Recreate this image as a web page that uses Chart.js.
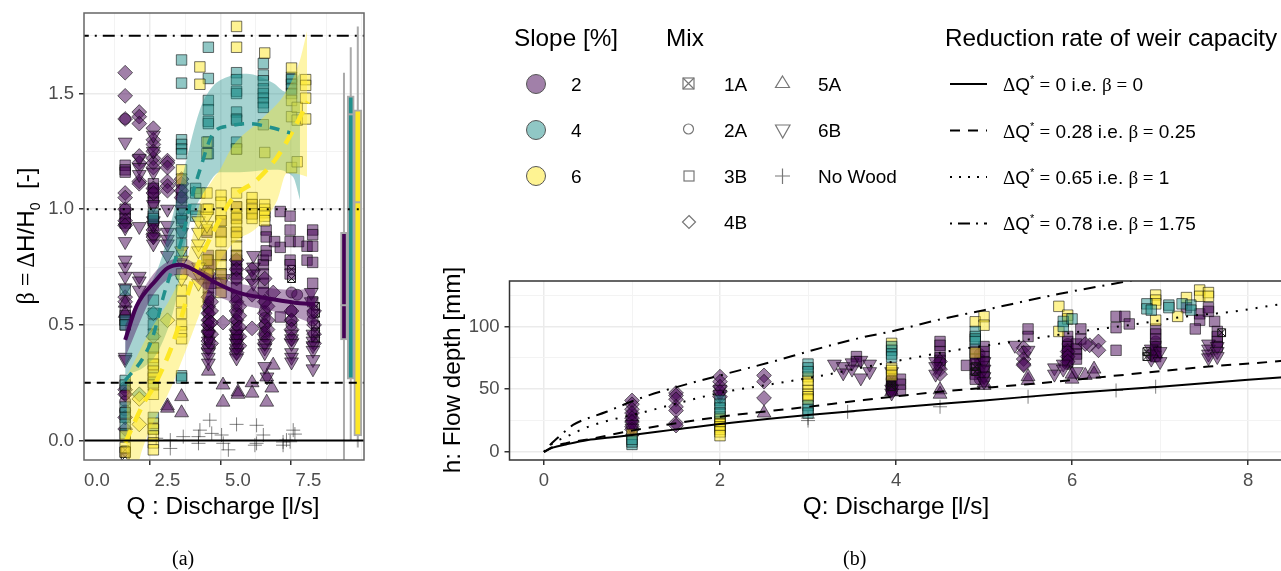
<!DOCTYPE html>
<html>
<head>
<meta charset="utf-8">
<script src="https://cdn.jsdelivr.net/npm/chart.js@4/dist/chart.umd.min.js"></script>
<style>
  html, body { margin: 0; padding: 0; background: #fff; }
  body { width: 1281px; height: 571px; overflow: hidden; position: relative; font-family: "Liberation Sans", sans-serif; color: #000; }
  canvas { position: absolute; }
  .t { position: absolute; white-space: nowrap; line-height: 1; }
  .ttl { font-size: 24.3px; }
  .lab { font-size: 19px; }
  .ser { font-family: "Liberation Serif", serif; }
  .rot { transform: translate(-50%, -50%) rotate(-90deg); }
  .cap { font-family: "Liberation Serif", serif; font-size: 20px; }
  sup { font-size: 11px; line-height: 0; position: relative; top: -1px; vertical-align: super; }
  sub { font-size: 14px; line-height: 0; }
  svg { position: absolute; left: 0; top: 0; }
</style>
</head>
<body>
<canvas id="chartA" width="420" height="520" style="left:0;top:0"></canvas>
<canvas id="chartB" width="860" height="250" style="left:440px;top:270px"></canvas>

<svg width="1281" height="571">
  <g stroke="#555" fill-opacity="1">
    <circle cx="536" cy="84" r="9.5" fill="#a180a9"/>
    <circle cx="536" cy="130" r="9.5" fill="#90c7c5"/>
    <circle cx="536" cy="176" r="9.5" fill="#fef392"/>
  </g>
  <g stroke="#777" fill="none" stroke-width="1.2">
    <rect x="683" y="78" width="11" height="11"/><path d="M683 78L694 89M694 78L683 89"/>
    <circle cx="688.5" cy="129" r="5"/>
    <rect x="684" y="171" width="10" height="10"/>
    <path d="M689 215.5L695.5 222L689 228.5L682.500 222Z"/>
    <path d="M782.500 76L789.500 87.500H775.500Z"/>
    <path d="M775.500 125L790 125L782.700 138Z"/>
    <path d="M775 176H790M782.500 168.500V184"/>
  </g>
  <g stroke="#000" stroke-width="2" fill="none">
    <path d="M950 84H987"/>
    <path d="M950 130.500H987" stroke-dasharray="10 8"/>
    <path d="M950 177H987" stroke-dasharray="2 7"/>
    <path d="M950 223.500H987" stroke-dasharray="2 6 12 6"/>
  </g>
</svg>

<div class="t ttl" style="left:514px;top:26px">Slope [%]</div>
<div class="t ttl" style="left:666px;top:26px">Mix</div>
<div class="t ttl" style="left:945px;top:26px">Reduction rate of weir capacity</div>
<div class="t lab" style="left:571px;top:75px">2</div>
<div class="t lab" style="left:571px;top:121px">4</div>
<div class="t lab" style="left:571px;top:167px">6</div>
<div class="t lab" style="left:724px;top:75px">1A</div>
<div class="t lab" style="left:724px;top:121px">2A</div>
<div class="t lab" style="left:724px;top:167px">3B</div>
<div class="t lab" style="left:724px;top:213px">4B</div>
<div class="t lab" style="left:818px;top:75px">5A</div>
<div class="t lab" style="left:818px;top:121px">6B</div>
<div class="t lab" style="left:818px;top:167px">No Wood</div>
<div class="t lab" style="left:1003px;top:75px"><span class="ser">Δ</span>Q<sup>*</sup> <span class="ser">=</span> 0 i.e. <span class="ser">β =</span> 0</div>
<div class="t lab" style="left:1003px;top:122px"><span class="ser">Δ</span>Q<sup>*</sup> <span class="ser">=</span> 0.28 i.e. <span class="ser">β =</span> 0.25</div>
<div class="t lab" style="left:1003px;top:168px"><span class="ser">Δ</span>Q<sup>*</sup> <span class="ser">=</span> 0.65 i.e. <span class="ser">β =</span> 1</div>
<div class="t lab" style="left:1003px;top:214px"><span class="ser">Δ</span>Q<sup>*</sup> <span class="ser">=</span> 0.78 i.e. <span class="ser">β =</span> 1.75</div>

<div class="t ttl rot" style="left:26px;top:236px"><span class="ser">β = Δ</span>H/H<sub>0</sub>&nbsp; [-]</div>
<div class="t ttl" style="left:223px;top:506px;transform:translate(-50%,-50%)">Q : Discharge [l/s]</div>
<div class="t ttl rot" style="left:452px;top:370px">h: Flow depth [mm]</div>
<div class="t ttl" style="left:896px;top:506px;transform:translate(-50%,-50%)">Q: Discharge [l/s]</div>
<div class="t cap" style="left:172px;top:548px">(a)</div>
<div class="t cap" style="left:843px;top:548px">(b)</div>

<script>
// tick values
const ticksA_x = [0, 2.5, 5, 7.5];
const ticksA_y = [0, 0.5, 1, 1.5];
const ticksB_x = [0, 2, 4, 6, 8];
const ticksB_y = [0, 50, 100];

// panel (a), each row is [Q, beta, beta, ...]
const beta2_1A = [[7.75, .58, .55, .5, .47, .44], [6.9, .74, .7], [3.95, .44], [1, -.04, -.07]];
const beta2_2A = [[1, 1.39], [3.95, .6, .57, .55, .52, .5, .48, .46], [4.95, .62, .58, .55, .52, .5, .47, .45, .43],
  [5.95, .6, .56, .53, .5, .47, .45], [6.9, .64, .56, .52, .5], [7.65, .55, .52], [7.1, .63], [1, .23, .2, .17, .13]];
const beta2_3B = [[1, 1.19, 1.17, 1.16, 1, .98, .96, .94, .56, .54, .52, .5, -.05], [2, 1.11, 1.09, 1.07, 1.05, 1.03, .97, .95, .93],
  [3, 1.08, 1.05, 1.03, .96], [3.95, .8, .78, .76, .72, .7, .66, .62], [4.95, 1.01, .96, .9, .8, .78, .76, .74, .72, .7, .66, .62],
  [5.9, .78, .76, .72, .68, .64], [6, .91, .88, .82, .8], [6.5, .99, .835, .534], [6.85, .97, .91, .86, .78, .76, .72],
  [7.15, .86], [7.45, .84, .78], [7.65, .91, .89, .84, .77, .68, .6], [6.3, .86], [4.05, .76, .68], [4.4, .95, .9, .8, .72], [5.5, 1.02, .98], [3.9, .9]];
const beta2_4B = [[1, 1.59, 1.49, 1.39, 1.07, 1.05, 1, .95, .93, .62, .6, .22, .2, .1, .05], [1.5, 1.42, 1.4, 1.37, 1.23, 1.2, 1.12, 1.11],
  [2, 1.35, 1.3, 1.28, 1.25, 1.22, 1.2, 1.18, 1.09, 1.07, .91, .89, .88], [2.5, 1.21, 1.2, 1.18, 1.12, 1.1, 1.08],
  [3, 1.13, 1.11, 1.08, 1.05], [3.95, .72, .62, .58, .55, .52, .5, .47, .43, .4], [4.05, .6, .56, .51, .46, .42], [4.47, .51], [4.95, .78, .74, .7, .6, .56, .52, .48, .44, .4, .38], [5.05, .58, .54, .49, .45, .41],
  [5.5, .74, .7, .63, .485], [5.95, .7, .6, .55, .5, .46, .42], [6.05, .58, .52, .48, .44], [6.25, .64], [6.9, .56, .52, .48, .44], [7.7, .56, .5, .46, .42]];
const beta2_5A = [[1, .594, .55], [2.5, .15, .14], [3, .19, .12], [4.47, .24, .166], [5, .21, .2], [5.5, .25, .205],
  [6.02, .275, .166], [6.25, .326], [6.2, .227], [3.95, .3]];
const beta2_6B = [[1, 1.29, .92, .86, .78, .75, .71, .66, .36, .35], [1.5, 1.22, 1.18, 1.15, .925, .71, .69, .65], [2, 1.32, 1.25, 1.16, 1.02, .95, .93, .88, .85],
  [2.5, 1, .93, .9, .87, .85, .8], [3, 1, .95, .9], [3.95, .46, .43, .4, .38, .36, .335], [4.95, .46, .44, .42, .4, .38, .357],
  [5.95, .42, .4, .38, .32], [6.03, .275], [6.9, .46, .44, .42, .38, .36, .34], [7.66, .46, .43, .41, .39, .35, .31], [5.55, .8, .75, .72, .68], [4.5, .7], [7.6, .64, .6]];
const beta2_wood = [[2.1, .01], [2.6, .002, -.034], [3.06, .017], [3.6, .017, -.012], [3.65, .045], [4, .088], [4.07, .031], [4.42, .024],
  [4.48, -.012], [4.66, -.04], [4.95, .07], [5.66, .066, -.012], [5.6, -.02], [5.9, .024], [6.6, -.006, -.02], [6.72, .002], [6.96, .045], [7.02, .028], [6.85, -.005]];

const beta4_3B = [[1, .65, .52, .5, .26, .24, .145, .12, .1, .07, .03], [2, .98, .96, .607, .55, .5, .46, .4, .33, .28, .25, .1, .05],
  [3, 1.645, 1.545, 1.3, 1.28, 1.26, 1.24, .98, .95, .9, .85, .8, .28, .27], [3.5, 1.09, 1.07, 1, .97],
  [3.95, 1.7, 1.565, 1.47, 1.43, 1.38, 1.37, 1.29, 1.24], [4.95, 1.59, 1.56, 1.51, 1.5, 1.42, 1.39, 1.385, 1.29, 1.26],
  [5.9, 1.63, 1.58, 1.555, 1.52, 1.5, 1.48, 1.46, 1.44, 1.365], [6.9, 1.57, 1.56, 1.54, 1.52, 1.5]];
const beta4_4B = [[2, .55, .45], [1.5, .2]];

const beta6_3B = [[1, -.03, -.05, .02], [2, .4, .36, .33, .3, .27, .24, .2, .075, .05, .02, -.01, -.04],
  [3, 1.17, 1.13, .72, .65, .6, .55, .5, .47, .44], [3.65, 1.07, 1.54, 1.615], [3.9, 1.29, 1.24, 1.07, 1, .91, .78, .72], [4.4, 1.06, 1.03, .98, .95, .9, .86, .8, .76, .72, .68, .64],
  [4.95, 1.79, 1.7, 1.26, 1.07, 1.01, .98, .96, .93, .9, .88, .84, .8], [5.5, 1.05, 1.02, 1, .98, .96], [5.95, 1.675, 1.245, 1.02, 1, .985, .97, .95], [6.9, 1.61, 1.47, 1.4, 1.18], [7.1, 1.44, 1.385, 1.205], [7.4, 1.56, 1.535, 1.48, 1.39], [3.95, 1.0]];
const beta6_4B = [[1.5, .18, .07], [2.5, .52]];
const beta6_6B = [[3.6, .95, .9, .85, .82, .75, .72, .68], [3, .82, .78, .7], [3.9, .97, .93]];

// loess bands and means in panel (a), as [Q, beta]
const smoothPurple = [[1, .435], [1.4, .58], [2.1, .694], [2.5, .745], [2.94, .76], [3.55, .73], [4.25, .68], [5.07, .637], [6.03, .615], [7.2, .593], [7.73, .59]];
const upperPurple = [[1, .5], [2, .72], [3, .79], [4, .72], [5, .68], [6, .66], [7, .65], [7.73, .66]];
const lowerPurple = [[1, .36], [2, .63], [3, .72], [4, .64], [5, .59], [6, .565], [7, .535], [7.73, .5]];
const smoothTeal = [[1, .26], [1.65, .36], [2, .456], [2.35, .62], [2.65, .737], [3, .867], [3.36, 1.05], [3.65, 1.17], [4.13, 1.33], [4.7, 1.36], [5.4, 1.37], [6.1, 1.355], [6.85, 1.33]];
const upperTeal = [[1, .47], [1.3, .55], [2.23, .767], [2.94, 1.096], [3.65, 1.43], [4.1, 1.53], [4.7, 1.575], [5.3, 1.585], [6.25, 1.545], [6.7, 1.507], [6.9, 1.53], [7.2, 1.59]];
const lowerTeal = [[1, .283], [1.7, .32], [2.23, .4], [2.8, .607], [3.2, .897], [3.9, 1.096], [4.36, 1.16], [5.07, 1.16], [6.25, 1.17], [6.95, 1.14], [7.2, 1.04]];
const smoothYellow = [[1, -.01], [1.65, .16], [2, .23], [2.6, .39], [3, .535], [3.3, .665], [3.55, .75], [4.1, .897], [4.83, 1.05], [5.67, 1.126], [6.4, 1.227], [6.95, 1.34], [7.48, 1.465]];
const upperYellow = [[1.05, .275], [1.9, .478], [2.7, .637], [3.2, .78], [3.65, 1.025], [4.1, 1.126], [4.36, 1.17], [4.8, 1.27], [5.8, 1.386], [6.7, 1.507], [7.2, 1.645], [7.45, 1.77]];
const lowerYellow = [[1.05, -.35], [1.5, -.085], [2.7, .25], [3.65, .55], [4.25, .75], [4.83, .853], [5.67, .92], [6.4, 1.04], [6.73, 1.155], [7.2, 1.15], [7.45, 1.14]];

// boxplots at the right of panel (a): [x, whisker low, q1, median, q3, whisker high]
const boxPurple = [8.76, -.3, .435, .585, .9, 1.59];
const boxTeal = [9, .0, .265, 1.41, 1.49, 1.7];
const boxYellow = [9.25, -.03, .02, 1.03, 1.43, 1.79];

// panel (b), each row is [Q, h, h, ...]
const depth2_1A = [[7.7, 95], [3.95, 55, 52], [4.9, 68, 64], [6.85, 80, 76]];
const depth2_2A = [[1, 30, 26], [3.95, 58, 54, 51, 48], [4.95, 78, 74, 70, 66, 62, 58], [5.95, 86, 82, 78, 74, 70], [6.95, 88, 84, 80, 76]];
const depth2_3B = [[3.55, 76, 72], [3.95, 60, 56, 52, 50], [4.05, 58, 54, 49], [4.5, 88, 85, 80, 75, 73, 70], [4.8, 69],
  [5, 84, 80, 76, 72, 68, 64, 60], [4.9, 82, 78, 74, 70, 66, 62, 58], [5.5, 98, 92], [5.95, 92, 88, 84, 80, 76, 72], [6.05, 86, 82, 78, 74], [6.1, 98, 90], [6.5, 108, 99, 81], [6.6, 108], [6.65, 102],
  [6.95, 98, 94, 90, 84, 80, 76], [7.3, 115], [7.45, 110, 105], [7.55, 115, 112], [7.62, 104], [7.4, 98], [7.65, 96, 92, 88, 84]];
const depth2_4B = [[1, 41, 38, 34, 31, 27, 24, 20, 18], [1.5, 47, 45, 42, 36, 33, 23, 21], [2, 60, 56, 52, 48, 44], [2.5, 61, 56, 43],
  [4.5, 72, 66, 62], [5.45, 83, 79, 74, 70, 69], [5.95, 80, 76, 72], [6.2, 85], [6.3, 88, 81], [6.15, 86]];
const depth2_5A = [[1, 16], [2.5, 31], [3.95, 48], [4.5, 49.500, 46], [5, 53, 55], [5.5, 57, 60], [6, 58, 62], [6.15, 61], [6.25, 66, 62], [6.95, 78]];
const depth2_6B = [[1, 22, 19], [2, 50, 46], [3.3, 70], [3.4, 68, 63], [3.5, 71, 66], [3.6, 73, 59], [3.7, 70, 64], [3.95, 64, 50, 47], [4.45, 72, 68, 62],
  [5, 72, 66, 60, 56], [5.35, 85], [5.5, 81], [5.8, 67, 62], [5.9, 70, 66], [6.05, 64], [6.9, 82, 78, 74], [7, 80, 72], [7.55, 86, 82, 78, 75], [7.65, 84, 80, 76]];
const depth2_wood = [[3, 27, 25], [3.45, 32], [4.5, 36], [5.5, 44], [6.5, 49], [6.95, 52]];

const depth4_3B = [[1, 6, 8, 10], [2, 41, 38, 35, 31], [3, 70, 67, 64, 37, 34, 31], [3.95, 84, 81, 78, 75.600], [4.9, 96, 92, 90, 88],
  [5.9, 104, 100], [6, 106], [6.85, 118, 114], [6.9, 113], [7.1, 117, 115], [7.25, 118], [7.35, 117, 113]];
const depth6_3B = [[1, 14], [2, 28, 26, 24, 22, 20, 18, 16, 13], [3, 60, 57, 54, 49, 46, 44, 42], [3.95, 86.500, 66.700, 65, 61], [4.9, 103.700, 79],
  [5, 107.800, 101], [5.85, 116, 96], [5.95, 109, 106], [6.95, 125, 121, 118, 105], [7.3, 123], [7.2, 108], [7.45, 129, 124], [7.55, 127, 124]];

// weir rating curves in panel (b), as [Q, h]
const curveSolid = [[0, 0], [.1, 3.5], [.25, 6], [.5, 9.5], [.75, 11.5], [1, 13.500], [1.5, 18], [2, 22.300], [3, 29.500], [3.59, 33], [4, 35.500], [5, 41], [6, 47], [7, 52], [8, 57.500], [8.6, 60.500]];
const curveDash = [[0, 0], [.1, 4], [.25, 7], [.5, 10], [1, 17], [2, 28], [3, 36], [3.59, 41], [4.5, 48], [5.5, 54], [6.47, 60.600], [7.55, 68], [8.29, 72], [8.6, 74]];
const curveDot = [[0, 0], [.1, 7], [.25, 12], [.5, 20], [1.15, 32], [2, 47], [2.76, 56], [3.17, 61], [3.67, 68], [4.2, 75], [4.7, 81.400], [5.45, 89], [6.1, 96], [6.65, 101], [7.3, 108], [7.85, 112], [8.3, 117], [8.6, 120]];
const curveDashDot = [[0, 0], [.06, 5], [.15, 11], [.25, 17], [.33, 21.500], [.71, 32], [1.1, 43], [1.47, 51], [2, 61], [2.6, 72], [3.05, 81], [3.6, 91], [3.97, 96.400], [4.46, 105], [5, 113], [5.86, 126], [6.55, 135], [6.8, 138]];

const PURPLE = 'rgba(68,1,84,.5)';
const TEAL = 'rgba(33,144,140,.5)';
const YELLOW = 'rgba(253,231,37,.5)';
const EDGE = 'rgba(0,0,0,.55)';

function rows(cols) {
  return cols.flatMap(([q, ...vals]) => vals.map(v => ({ x: q, y: v })));
}
function xy(list) {
  return list.map(([x, y]) => ({ x, y }));
}

// one scatter layer of a mix
function marks(cols, shape, fill, order) {
  const base = { type: 'scatter', data: rows(cols), order, backgroundColor: fill, borderColor: EDGE, borderWidth: 1 };
  if (shape === 'square') return [{ ...base, pointStyle: 'rect', pointRadius: 7.4 }];
  if (shape === 'circle') return [{ ...base, pointStyle: 'circle', pointRadius: 5.5 }];
  if (shape === 'diamond') return [{ ...base, pointStyle: 'rectRot', pointRadius: 7.4 }];
  if (shape === 'up') return [{ ...base, pointStyle: 'triangle', pointRadius: 8 }];
  if (shape === 'down') return [{ ...base, pointStyle: 'triangle', pointRotation: 180, pointRadius: 8 }];
  if (shape === 'plus') return [{ ...base, pointStyle: 'cross', pointRadius: 7, borderColor: 'rgba(30,30,30,.55)' }];
  // 1A is a square with a cross through it
  return [
    { ...base, pointStyle: 'rect', pointRadius: 5.5, backgroundColor: 'transparent', borderColor: '#111' },
    { ...base, pointStyle: 'crossRot', pointRadius: 5.5, backgroundColor: 'transparent', borderColor: '#111' }
  ];
}
function curve(list, color, width, dash, order) {
  return { type: 'line', data: xy(list), borderColor: color, borderWidth: width, borderDash: dash, pointRadius: 0, cubicInterpolationMode: 'monotone', fill: false, order, borderCapStyle: 'butt' };
}
function hline(value, dash) {
  return { type: 'line', data: [{ x: -1, y: value }, { x: 11, y: value }], borderColor: '#000', borderWidth: 2, borderDash: dash, pointRadius: 0, fill: false, order: 1 };
}
function band(upper, lower, fill, order) {
  return [
    { type: 'line', data: xy(upper), borderWidth: 0, borderColor: 'transparent', pointRadius: 0, cubicInterpolationMode: 'monotone', backgroundColor: fill, fill: '+1', order },
    { type: 'line', data: xy(lower), borderWidth: 0, borderColor: 'transparent', pointRadius: 0, cubicInterpolationMode: 'monotone', fill: false, order }
  ];
}
function box(b, fill, thick) {
  const [x, lo, q1, med, q3, hi] = b;
  return [
    { type: 'line', data: [{ x, y: lo }, { x, y: hi }], borderColor: '#aaa', borderWidth: 2, pointRadius: 0, fill: false, order: 4 },
    { type: 'bar', data: [{ x, y: [q1, q3] }], backgroundColor: fill, borderColor: '#aaa', borderWidth: 2, borderSkipped: false, barThickness: thick, grouped: false, order: 3 },
    { type: 'line', data: [{ x: x - .13, y: med }, { x: x + .13, y: med }], borderColor: '#aaa', borderWidth: 2, pointRadius: 0, fill: false, order: 2 }
  ];
}

// plain frame round the plot, like theme_bw
const frame = {
  id: 'frame',
  afterDraw(chart, args, opts) {
    const { ctx, chartArea: a } = chart;
    ctx.save();
    ctx.strokeStyle = opts.color;
    ctx.lineWidth = 1.5;
    ctx.strokeRect(a.left, a.top, a.right - a.left, a.bottom - a.top);
    ctx.restore();
  }
};

// fixed box for an axis, and no room kept for its end labels
function fixed(side, px) {
  return s => {
    s[side] = px;
    s.paddingTop = s.paddingBottom = s.paddingLeft = s.paddingRight = 0;
  };
}

function axis(min, max, step, majors, fit, fmt) {
  const isMajor = c => !!c.tick && majors.includes(c.tick.value);
  return {
    type: 'linear', min, max, offset: false,
    afterFit: fit,
    border: { display: false },
    grid: {
      drawTicks: true, tickLength: 5,
      color: c => isMajor(c) ? '#ebebeb' : '#f3f3f3',
      lineWidth: c => isMajor(c) ? 1.5 : 1,
      tickColor: c => isMajor(c) ? '#333' : 'transparent'
    },
    ticks: {
      stepSize: step, autoSkip: false, includeBounds: false, maxRotation: 0, padding: 5,
      color: '#4d4d4d', font: { family: 'Liberation Sans', size: 18.5 },
      callback: v => majors.includes(v) ? fmt(v) : ''
    }
  };
}

const baseOpts = {
  responsive: false, animation: false, devicePixelRatio: 1,
  layout: { autoPadding: false },
  plugins: { legend: { display: false }, tooltip: { enabled: false } }
};

new Chart(document.getElementById('chartA'), {
  type: 'scatter',
  data: {
    datasets: [
      hline(0, []), hline(.25, [8, 6]), hline(1, [2, 7]), hline(1.75, [2, 6, 12, 6]),
      ...box(boxPurple, '#440154', 7), ...box(boxTeal, '#21908c', 7), ...box(boxYellow, '#fde725', 8),
      curve(smoothPurple, '#440154', 4, [], 5),
      curve(smoothTeal, '#21908c', 3.5, [10, 8], 5),
      curve(smoothYellow, '#fde725', 4.5, [14, 9], 5),
      ...band(upperPurple, lowerPurple, 'rgba(68,1,84,.4)', 6),
      ...band(upperYellow, lowerYellow, 'rgba(253,231,37,.4)', 7),
      ...band(upperTeal, lowerTeal, 'rgba(33,144,140,.4)', 8),
      ...marks(beta6_6B, 'down', YELLOW, 10), ...marks(beta6_4B, 'diamond', YELLOW, 10), ...marks(beta6_3B, 'square', YELLOW, 10),
      ...marks(beta4_4B, 'diamond', TEAL, 11), ...marks(beta4_3B, 'square', TEAL, 11),
      ...marks(beta2_wood, 'plus', PURPLE, 12), ...marks(beta2_6B, 'down', PURPLE, 12), ...marks(beta2_5A, 'up', PURPLE, 12),
      ...marks(beta2_4B, 'diamond', PURPLE, 12), ...marks(beta2_3B, 'square', PURPLE, 12), ...marks(beta2_2A, 'circle', PURPLE, 12), ...marks(beta2_1A, 'cross1A', PURPLE, 12)
    ]
  },
  options: {
    ...baseOpts,
    layout: { autoPadding: false, padding: { top: 13, right: 56 } },
    plugins: { ...baseOpts.plugins, frame: { color: '#666' } },
    scales: {
      x: axis(-.46, 9.47, 1.25, ticksA_x, fixed('height', 60), v => v.toFixed(1)),
      y: axis(-.084, 1.848, .25, ticksA_y, fixed('width', 84), v => v.toFixed(1))
    }
  },
  plugins: [frame]
});

new Chart(document.getElementById('chartB'), {
  type: 'scatter',
  data: {
    datasets: [
      curve(curveSolid, '#000', 2, [], 1),
      curve(curveDash, '#000', 2, [10, 8], 1),
      curve(curveDot, '#000', 2, [2, 8], 1),
      curve(curveDashDot, '#000', 2, [2, 7, 12, 7], 1),
      ...marks(depth2_1A, 'cross1A', PURPLE, 9),
      ...marks(depth2_wood, 'plus', PURPLE, 9), ...marks(depth2_6B, 'down', PURPLE, 9), ...marks(depth2_5A, 'up', PURPLE, 9),
      ...marks(depth2_4B, 'diamond', PURPLE, 9), ...marks(depth2_3B, 'square', PURPLE, 9), ...marks(depth2_2A, 'circle', PURPLE, 9),
      ...marks(depth6_3B, 'square', YELLOW, 8),
      ...marks(depth4_3B, 'square', TEAL, 7)
    ]
  },
  options: {
    ...baseOpts,
    layout: { autoPadding: false, padding: { top: 11 } },
    plugins: { ...baseOpts.plugins, frame: { color: '#333' } },
    scales: {
      x: axis(-.392, 8.59, 1, ticksB_x, fixed('height', 60), v => String(v)),
      y: axis(-6.4, 136.2, 25, ticksB_y, fixed('width', 69.5), v => String(v))
    }
  },
  plugins: [frame]
});
</script>
</body>
</html>
